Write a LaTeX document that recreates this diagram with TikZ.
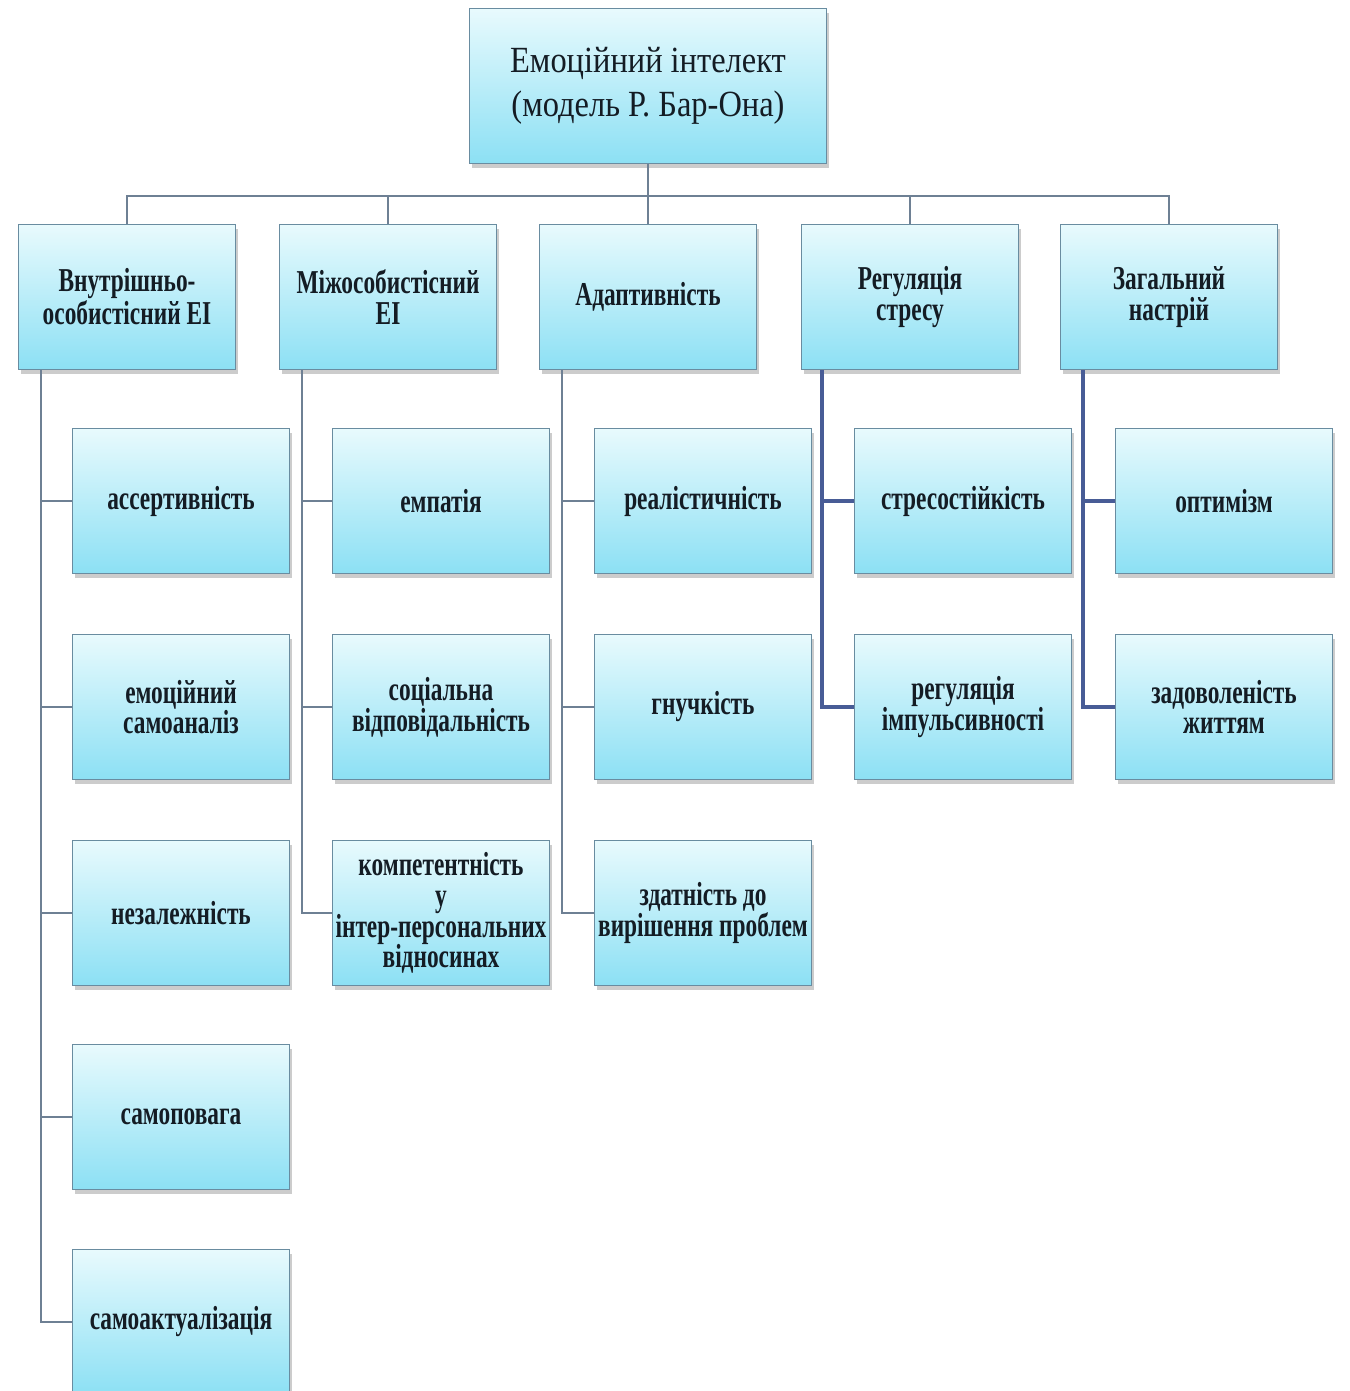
\documentclass[tikz,border=0pt]{standalone}
\usepackage{fontspec}
\setmainfont{Liberation Serif}
\newfontfamily\headfont[FakeStretch=0.88]{Liberation Serif}
\newfontfamily\boxfont[FakeStretch=0.7]{Liberation Serif}
\usepackage{tikz}
\usetikzlibrary{positioning, shadows, calc}
\definecolor{boxTop}{RGB}{232, 250, 253}
\definecolor{boxBottom}{RGB}{140, 224, 244}
\definecolor{boxEdge}{RGB}{105, 140, 160}
\definecolor{linkGrey}{RGB}{110, 128, 148}
\definecolor{linkBlue}{RGB}{72, 92, 150}
\definecolor{textDark}{RGB}{20, 28, 36}

\tikzset{
  basebox/.style={draw=boxEdge, line width=0.6pt, top color=boxTop, bottom color=boxBottom,
    text=textDark, align=center, inner sep=1pt,
    drop shadow={shadow xshift=1.5pt, shadow yshift=-2.5pt, opacity=0.4}},
  topbox/.style={basebox, minimum width=7.14cm, minimum height=3.1cm,
    font=\headfont\fontsize{21}{25}\selectfont},
  groupbox/.style={basebox, minimum width=4.34cm, minimum height=2.9cm,
    font=\boxfont\bfseries\fontsize{19}{17.5}\selectfont},
  itembox/.style={groupbox},
  link/.style={linkGrey, line width=1pt},
  boldlink/.style={linkBlue, line width=2.4pt}
}

\begin{document}
\begin{tikzpicture}[x=0.02cm, y=-0.02cm]
    \useasboundingbox (0,0) rectangle (1349,1391);
    % Root
    \node[topbox] (root) at (648,86) {Емоційний інтелект\\(модель Р. Бар-Она)};
    % Components
    \node[groupbox] (g1) at (127,297) {Внутрішньо-\\особистісний ЕІ};
    \node[groupbox] (g2) at (388,297) {Міжособистісний\\ЕІ};
    \node[groupbox] (g3) at (648,297) {Адаптивність};
    \node[groupbox] (g4) at (910,297) {Регуляція\\стресу};
    \node[groupbox] (g5) at (1169,297) {Загальний\\настрій};
    \foreach \g in {g1,g2,g3,g4,g5}
      \draw[link] (root.south) -- ++(0,32) -| (\g.north);
    % Subscales
    \foreach \y/\n/\txt in {501/a1/{ассертивність}, 707/a2/{емоційний\\самоаналіз},
        913/a3/{незалежність}, 1117/a4/{самоповага}, 1322/a5/{самоактуалізація}}{
      \node[itembox] (\n) at (181,\y) {\txt};
      \draw[link] ([xshift=0.46cm]g1.south west) |- (\n.west);
    }
    \foreach \y/\n/\txt in {501/b1/{емпатія}, 707/b2/{соціальна\\відповідальність},
        913/b3/{компетентність\\у\\інтер-персональних\\відносинах}}{
      \node[itembox] (\n) at (441,\y) {\txt};
      \draw[link] ([xshift=0.46cm]g2.south west) |- (\n.west);
    }
    \foreach \y/\n/\txt in {501/c1/{реалістичність}, 707/c2/{гнучкість},
        913/c3/{здатність до\\вирішення проблем}}{
      \node[itembox] (\n) at (703,\y) {\txt};
      \draw[link] ([xshift=0.46cm]g3.south west) |- (\n.west);
    }
    \foreach \y/\n/\txt in {501/d1/{стресостійкість}, 707/d2/{регуляція\\імпульсивності}}{
      \node[itembox] (\n) at (963,\y) {\txt};
      \draw[boldlink] ([xshift=0.42cm]g4.south west) |- (\n.west);
    }
    \foreach \y/\n/\txt in {501/e1/{оптимізм}, 707/e2/{задоволеність\\життям}}{
      \node[itembox] (\n) at (1224,\y) {\txt};
      \draw[boldlink] ([xshift=0.46cm]g5.south west) |- (\n.west);
    }
  \end{tikzpicture}
\end{document}
